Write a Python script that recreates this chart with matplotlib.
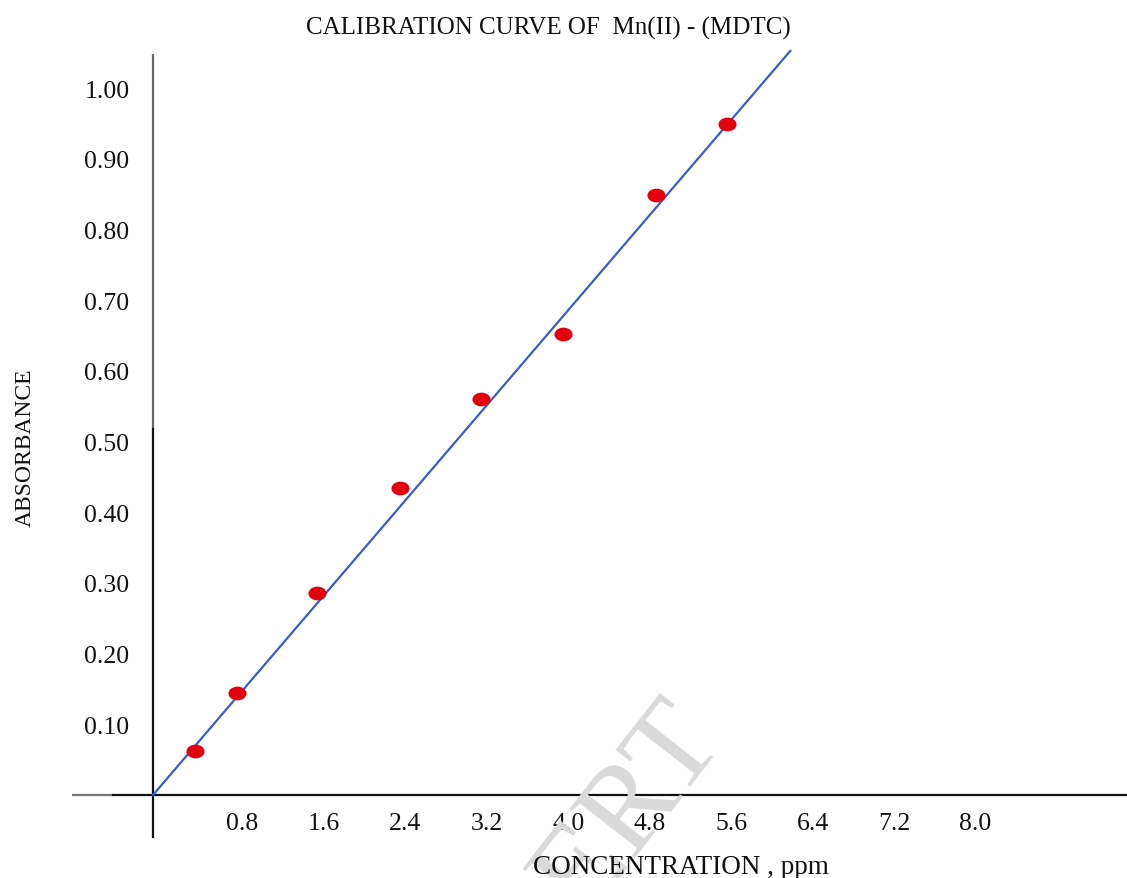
import matplotlib
matplotlib.use("Agg")
import matplotlib.pyplot as plt
import matplotlib.transforms as mtransforms
from matplotlib.path import Path
import numpy as np

# ---- data ----
conc = [0.41, 0.83, 1.61, 2.43, 3.22, 4.03, 4.94, 5.64]
absorbance = [0.062, 0.144, 0.286, 0.434, 0.560, 0.652, 0.849, 0.949]
fit_x = [0.0, 6.26]
fit_slope = 0.1682
x_ticks = [0.8, 1.6, 2.4, 3.2, 4.0, 4.8, 5.6, 6.4, 7.2, 8.0]
x_tick_labels = ["0.8", "1.6", "2.4", "3.2", "4.0", "4.8", "5.6", "6.4", "7.2", "8.0"]
y_ticks = [0.10, 0.20, 0.30, 0.40, 0.50, 0.60, 0.70, 0.80, 0.90, 1.00]
y_tick_labels = ["0.10", "0.20", "0.30", "0.40", "0.50", "0.60", "0.70", "0.80", "0.90", "1.00"]

W, H = 1127, 879
fig = plt.figure(figsize=(W / 100, H / 100), dpi=100)
ax = fig.add_axes([0, 0, 1, 1])

# pixel mapping: origin at (153, 796), 101.8 px per ppm, 706.7 px per absorbance unit
x0px, y0px, sx, sy = 153, 796, 101.8, 706.7
ax.set_xlim((0 - x0px) / sx, (W - x0px) / sx)
ax.set_ylim((y0px - H) / sy, (y0px - 0) / sy)

serif = ["Liberation Serif", "DejaVu Serif"]
plt.rcParams["font.family"] = serif

# spines
for s in ["top", "right"]:
    ax.spines[s].set_visible(False)
ax.spines["left"].set_position(("data", 0))
ax.spines["bottom"].set_position(("data", 0))
ax.spines["left"].set_linewidth(1.6)
ax.spines["bottom"].set_linewidth(1.6)
ax.spines["left"].set_color("#111111")
ax.spines["bottom"].set_color("#111111")
ax.spines["left"].set_bounds((y0px - 838) / sy, (y0px - 430) / sy)
ax.spines["bottom"].set_bounds((113 - x0px) / sx, (W - x0px) / sx)
# lighter upper part of the y axis and left stub of the x axis
ax.plot([0, 0], [(y0px - 430) / sy, (y0px - 55) / sy], color="#666666", lw=1.6,
        solid_capstyle="butt", zorder=2)
ax.plot([(72 - x0px) / sx, (113 - x0px) / sx], [0, 0], color="#777777", lw=1.6,
        solid_capstyle="butt", zorder=2)

# ticks
ax.set_xticks(x_ticks)
ax.set_xticklabels(x_tick_labels, fontsize=18.5)
ax.set_yticks(y_ticks)
ax.set_yticklabels(y_tick_labels, fontsize=18.5)
ax.tick_params(axis="x", length=0, pad=12, colors="#111111")
ax.tick_params(axis="y", length=0, pad=17, colors="#111111")
offset = mtransforms.ScaledTranslation(8 / 100, 0, fig.dpi_scale_trans)
for lab in ax.get_xticklabels():
    lab.set_transform(lab.get_transform() + offset)

# watermark
fig.text(578 / W, 1 - 878 / H, "NCERT", fontsize=90, color="#dadada",
         rotation=52, ha="center", va="center", zorder=0, family=serif)

# fit line
fx = np.array(fit_x)
ax.plot(fx, fit_slope * fx, color="#3c5bcf", lw=1.6, zorder=3)

# points (ellipse marker)
circ = Path.unit_circle()
ell = Path(circ.vertices * np.array([1.35, 1.0]), circ.codes)
ax.plot(conc, absorbance, linestyle="none", marker=ell, markersize=12,
        color="#e3000f", zorder=4)

# texts
fig.text(548 / W, 1 - 28 / H, "CALIBRATION CURVE OF  Mn(II) - (MDTC)",
         fontsize=18, ha="center", va="center", color="#111111")
fig.text(25 / W, 1 - 448 / H, "ABSORBANCE", fontsize=17, rotation=90,
         ha="center", va="center", color="#111111")
fig.text(681 / W, 1 - 868 / H, "CONCENTRATION , ppm", fontsize=19.5,
         ha="center", va="center", color="#111111")

fig.savefig("out.png", dpi=100)
